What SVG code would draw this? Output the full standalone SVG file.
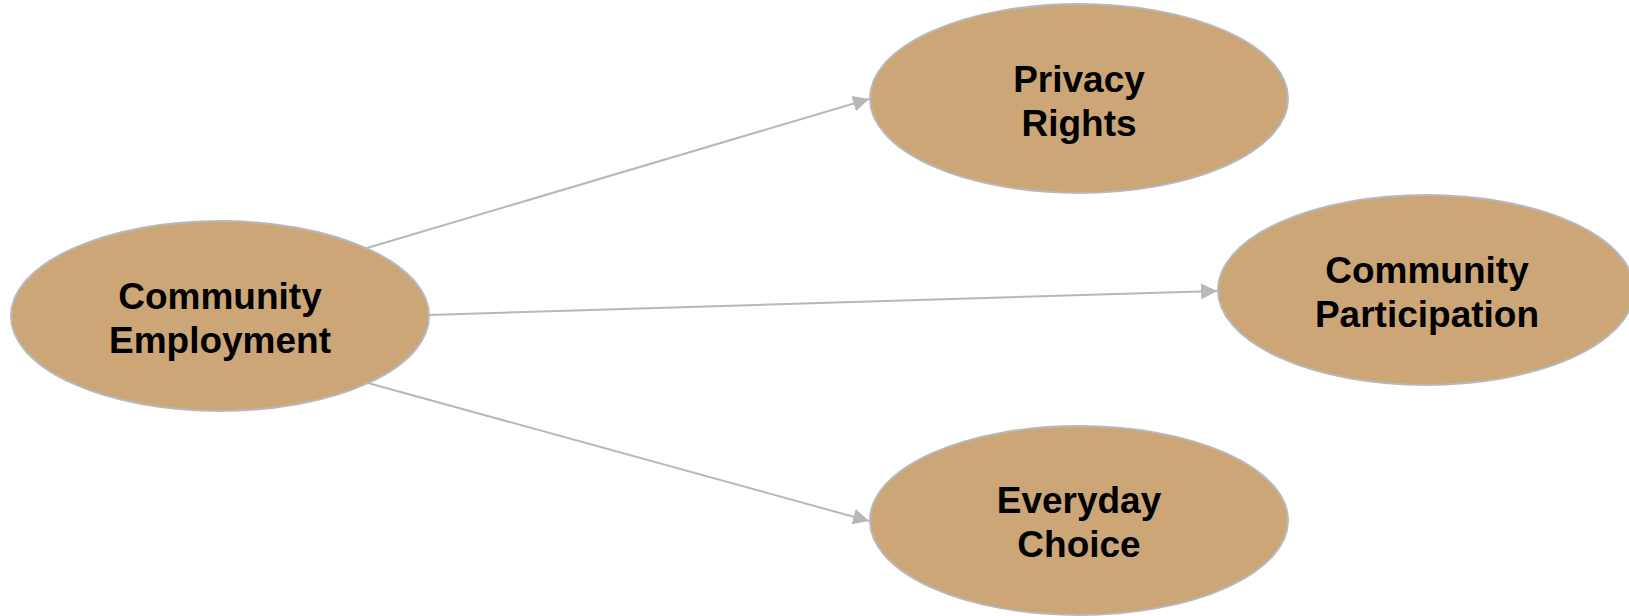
<svg xmlns="http://www.w3.org/2000/svg" width="1629" height="616" viewBox="0 0 1629 616">
<style>
.node ellipse{fill:#cca677;stroke:#b8b8b8;stroke-width:2}
.node text{font-family:"Liberation Sans",Arial,sans-serif;font-weight:bold;font-size:37px;fill:#000;text-anchor:middle}
.edge{stroke:#b8b8b8;stroke-width:2;fill:none;marker-end:url(#arrow)}
</style>
<defs>
<marker id="arrow" markerWidth="8" markerHeight="8" refX="8" refY="4" orient="auto" markerUnits="strokeWidth">
<path d="M0,0 L8,4 L0,8 Z" fill="#b8b8b8"/>
</marker>
</defs>
<rect width="1629" height="616" fill="#ffffff"/>
<g id="connectors">
<line class="edge" x1="367" y1="248" x2="869" y2="99"/>
<line class="edge" x1="429" y1="315" x2="1217" y2="291"/>
<line class="edge" x1="368" y1="383" x2="869" y2="521"/>
</g>
<g id="community-employment" class="node">
<ellipse cx="220" cy="316" rx="209" ry="95"/>
<text x="220" y="309">Community</text>
<text x="220" y="353">Employment</text>
</g>
<g id="privacy-rights" class="node">
<ellipse cx="1079" cy="98.5" rx="209" ry="94.5"/>
<text x="1079" y="92">Privacy</text>
<text x="1079" y="136">Rights</text>
</g>
<g id="community-participation" class="node">
<ellipse cx="1426" cy="290" rx="208" ry="95"/>
<text x="1427" y="283">Community</text>
<text x="1427" y="327">Participation</text>
</g>
<g id="everyday-choice" class="node">
<ellipse cx="1079" cy="520.5" rx="209" ry="94.5"/>
<text x="1079" y="513">Everyday</text>
<text x="1079" y="557">Choice</text>
</g>
</svg>
